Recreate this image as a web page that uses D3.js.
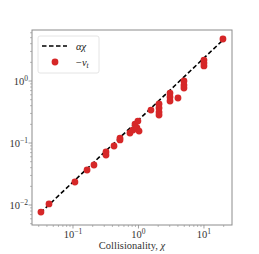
<!DOCTYPE html>
<html>
<head>
<meta charset="utf-8">
<script src="https://cdn.jsdelivr.net/npm/d3@7"></script>
<style>
  body { margin: 0; background: #fff; }
  svg { display: block; }
</style>
</head>
<body>
<div id="vis"></div>
<script>
// collisionality chi and -nu_t
const chiValues = [0.0324, 0.043, 0.107, 0.164, 0.209, 0.319, 0.319, 0.423, 0.522, 0.522,
                   0.741, 0.824, 0.885, 0.98, 0.948, 1.02, 1.55, 2.06, 2.06, 2.06, 2.06,
                   3.03, 3.03, 3.03, 4.01, 4.95, 4.95, 4.95, 10, 10, 10, 19.5]
const nuValues = [0.0077, 0.0104, 0.0235, 0.0367, 0.0442, 0.0716, 0.064, 0.0895, 0.120, 0.112,
                  0.145, 0.162, 0.202, 0.226, 0.175, 0.156, 0.340, 0.426, 0.367, 0.316, 0.283,
                  0.64, 0.552, 0.476, 0.532, 1.0, 0.861, 0.771, 2.18, 1.95, 1.75, 4.76]
const alpha = 0.235
const fitRange = [0.032, 19.5]
const xTicks = [0.1, 1, 10]
const yTicks = [0.01, 0.1, 1]

var W = 259, H = 254
var margin = { top: 30, right: 27, bottom: 29, left: 32 },
    width = W - margin.left - margin.right,
    height = H - margin.top - margin.bottom

var svg = d3.select("#vis").append("svg")
    .attr("width", W)
    .attr("height", H)
    .style("font-family", "'Liberation Serif', 'DejaVu Serif', serif")

var g = svg.append("g")
    .attr("transform", "translate(" + margin.left + "," + margin.top + ")")

var x = d3.scaleLog().domain([0.02366, 26.8]).range([0, width])
var y = d3.scaleLog().domain([0.00476, 6.65]).range([height, 0])

// minor ticks
function minors(dom) {
  var out = []
  for (var e = -3; e <= 2; e++) {
    for (var k = 2; k <= 9; k++) {
      var v = k * Math.pow(10, e)
      if (v >= dom[0] && v <= dom[1]) out.push(v)
    }
  }
  return out
}

var gray = "#8c8c8c"

// x axis
var xa = g.append("g").attr("transform", "translate(0," + height + ")")
xa.selectAll(".minor").data(minors(x.domain())).enter().append("line")
    .attr("x1", d => x(d)).attr("x2", d => x(d))
    .attr("y1", 0).attr("y2", 2)
    .attr("stroke", gray).attr("stroke-width", 0.6)
xa.selectAll(".major").data(xTicks).enter().append("line")
    .attr("x1", d => x(d)).attr("x2", d => x(d))
    .attr("y1", 0).attr("y2", 3.5)
    .attr("stroke", gray).attr("stroke-width", 0.8)
var xl = xa.selectAll(".lab").data(xTicks).enter().append("text")
    .attr("x", d => x(d)).attr("y", 13)
    .attr("text-anchor", "middle")
    .attr("font-size", 10.5).attr("fill", "#333")
xl.append("tspan").text("10")
xl.append("tspan").attr("dy", -4.5).attr("font-size", 7.5)
    .text(d => Math.round(Math.log10(d)) < 0 ? "\u2212" + Math.abs(Math.round(Math.log10(d))) : Math.round(Math.log10(d)))

// y axis
var ya = g.append("g")
ya.selectAll(".minor").data(minors(y.domain())).enter().append("line")
    .attr("y1", d => y(d)).attr("y2", d => y(d))
    .attr("x1", 0).attr("x2", -2)
    .attr("stroke", gray).attr("stroke-width", 0.6)
ya.selectAll(".major").data(yTicks).enter().append("line")
    .attr("y1", d => y(d)).attr("y2", d => y(d))
    .attr("x1", 0).attr("x2", -3.5)
    .attr("stroke", gray).attr("stroke-width", 0.8)
var yl = ya.selectAll(".lab").data(yTicks).enter().append("text")
    .attr("x", -4).attr("y", d => y(d) + 4)
    .attr("text-anchor", "end")
    .attr("font-size", 10.5).attr("fill", "#333")
yl.append("tspan").text("10")
yl.append("tspan").attr("dy", -4.5).attr("font-size", 7.5)
    .text(d => Math.round(Math.log10(d)) < 0 ? "\u2212" + Math.abs(Math.round(Math.log10(d))) : Math.round(Math.log10(d)))

// frame
g.append("rect")
    .attr("width", width).attr("height", height)
    .attr("fill", "none").attr("stroke", gray).attr("stroke-width", 1)

// fit line
g.append("line")
    .attr("x1", x(fitRange[0])).attr("y1", y(alpha * fitRange[0]))
    .attr("x2", x(fitRange[1])).attr("y2", y(alpha * fitRange[1]))
    .attr("stroke", "#000").attr("stroke-width", 1.6)
    .attr("stroke-dasharray", "4.5,2.5")

// points
g.append("g").selectAll("circle")
    .data(chiValues.map((c, i) => [c, nuValues[i]]))
    .enter().append("circle")
    .attr("cx", d => x(d[0])).attr("cy", d => y(d[1]))
    .attr("r", 3.4)
    .attr("fill", "#d62728")

// legend
var lg = g.append("g").attr("transform", "translate(6,6)")
lg.append("rect")
    .attr("width", 61).attr("height", 37).attr("rx", 2)
    .attr("fill", "#fff").attr("fill-opacity", 0.8)
    .attr("stroke", "#ddd").attr("stroke-width", 0.8)
lg.append("line")
    .attr("x1", 4).attr("x2", 29).attr("y1", 10).attr("y2", 10)
    .attr("stroke", "#000").attr("stroke-width", 1.6)
    .attr("stroke-dasharray", "4.5,2.5")
lg.append("circle").attr("cx", 17).attr("cy", 26).attr("r", 3.4).attr("fill", "#d62728")
lg.append("text").attr("x", 38).attr("y", 13.5)
    .attr("font-size", 10.5).attr("font-style", "italic").attr("fill", "#222")
    .text("\u03b1\u03c7")
var nt = lg.append("text").attr("x", 38).attr("y", 29.5)
    .attr("font-size", 10.5).attr("fill", "#222")
nt.append("tspan").text("\u2212")
nt.append("tspan").attr("font-style", "italic").text("\u03bd")
nt.append("tspan").attr("font-style", "italic").attr("font-size", 7.5).attr("dy", 2).text("t")

// x label
svg.append("text")
    .attr("x", margin.left + width / 2).attr("y", 249)
    .attr("text-anchor", "middle")
    .attr("font-size", 10.5).attr("fill", "#333")
    .text("Collisionality, ")
    .append("tspan").attr("font-style", "italic").text("\u03c7")
</script>
</body>
</html>
